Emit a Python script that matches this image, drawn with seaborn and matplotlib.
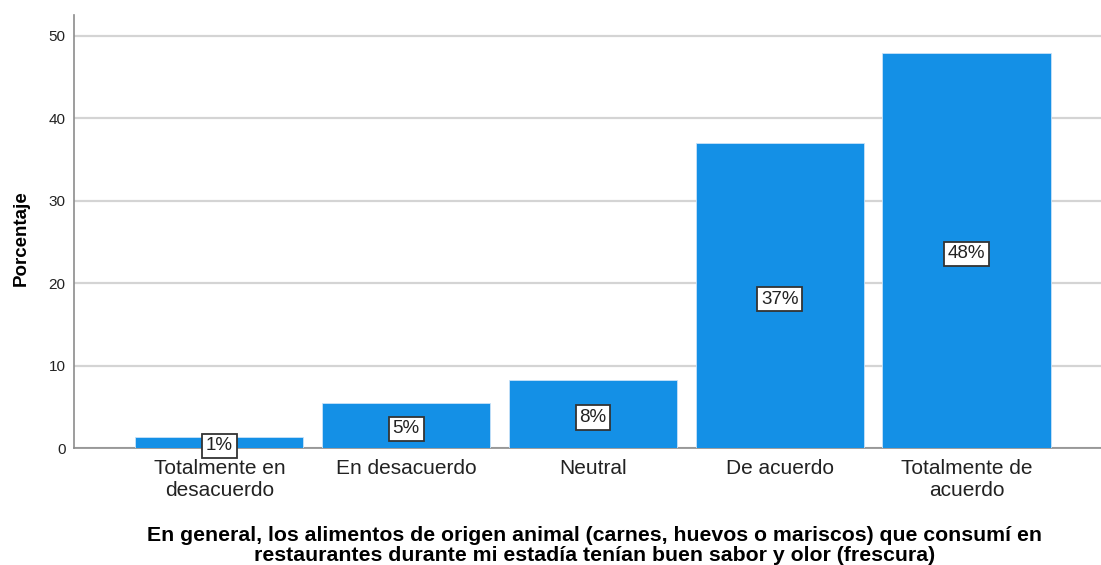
import matplotlib
matplotlib.use("Agg")
import matplotlib.pyplot as plt
import pandas as pd
import seaborn as sns

categories = ["Totalmente en\ndesacuerdo", "En desacuerdo", "Neutral", "De acuerdo", "Totalmente de\nacuerdo"]
porcentaje = [1.35, 5.45, 8.25, 36.95, 47.9]
etiquetas = ["1%", "5%", "8%", "37%", "48%"]

df = pd.DataFrame({"categoria": categories, "porcentaje": porcentaje})

sns.set_theme(style="white")
plt.rcParams["font.family"] = ["Liberation Sans", "DejaVu Sans"]

fig = plt.figure(figsize=(11.01, 5.65), dpi=100)
ax = fig.add_axes([0.067, 0.207, 0.933, 0.766])

sns.barplot(data=df, x="categoria", y="porcentaje", color="#1490e6", saturation=1,
            width=0.9, ax=ax, edgecolor="#c8e2f8", linewidth=0.6, zorder=3)

# gridlines like SPSS
ax.set_ylim(0, 52.5)
ax.set_xlim(-0.78, 4.72)
ax.set_yticks([0, 10, 20, 30, 40, 50])
ax.yaxis.grid(True, color="#d4d4d4", linewidth=1.6, zorder=0)
ax.set_axisbelow(True)

for s in ["top", "right"]:
    ax.spines[s].set_visible(False)
for s in ["left", "bottom"]:
    ax.spines[s].set_color("#8c8c8c")
    ax.spines[s].set_linewidth(1.2)

ax.tick_params(axis="y", labelsize=11, colors="#222222", length=0, pad=6)
ax.tick_params(axis="x", labelsize=15, colors="#222222", length=0, pad=8)
for t in ax.get_xticklabels():
    t.set_linespacing(1.2)

for i, (v, lab) in enumerate(zip(porcentaje, etiquetas)):
    ax.annotate(lab, (i, v / 2), xytext=(0, -1), textcoords="offset points",
                ha="center", va="center_baseline", fontsize=13.5, color="#222222", zorder=5,
                bbox=dict(boxstyle="square,pad=0.2", fc="white", ec="#333333", lw=1.3))

ax.set_ylabel("Porcentaje", fontsize=13.5, fontweight="bold", color="black")
ax.yaxis.set_label_coords(-0.043, 0.485)
ax.set_xlabel("En general, los alimentos de origen animal (carnes, huevos o mariscos) que consumí en\n"
              "restaurantes durante mi estadía tenían buen sabor y olor (frescura)",
              fontsize=15.3, fontweight="bold", color="black", linespacing=1.1)
ax.xaxis.set_label_coords(0.507, -0.18)

fig.savefig("out.png", dpi=100)
